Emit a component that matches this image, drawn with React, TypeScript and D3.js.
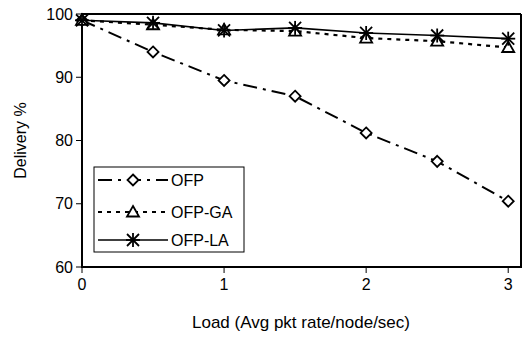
import React from "react";
import * as d3 from "d3";

const loads = [0, 0.5, 1, 1.5, 2, 2.5, 3];
const ofp = [99, 94, 89.5, 87, 81.2, 76.7, 70.4];
const ofpGA = [99, 98.3, 97.5, 97.3, 96.2, 95.7, 94.7];
const ofpLA = [99, 98.6, 97.4, 97.8, 97.0, 96.6, 96.1];
const seriesNames = ["OFP", "OFP-GA", "OFP-LA"];
const xTicks = [0, 1, 2, 3];
const yTicks = [60, 70, 80, 90, 100];

const W = 531, H = 338;
const L = 82, R = 521, T = 14, B = 267;
const FONT = "'Liberation Sans', Arial, sans-serif";

function Marker({ kind, x, y }: { kind: number; x: number; y: number }) {
  if (kind === 0) {
    const s = 5.5;
    return <path d={`M${x},${y - s}L${x + s},${y}L${x},${y + s}L${x - s},${y}Z`} fill="white" stroke="black" strokeWidth={1.8} />;
  }
  if (kind === 1) {
    const s = 6;
    return <path d={`M${x},${y - s}L${x + s},${y + s * 0.75}L${x - s},${y + s * 0.75}Z`} fill="white" stroke="black" strokeWidth={1.8} />;
  }
  const s = 6;
  return (
    <g stroke="black" strokeWidth={1.8}>
      <line x1={x - s} y1={y - s} x2={x + s} y2={y + s} />
      <line x1={x - s} y1={y + s} x2={x + s} y2={y - s} />
      <line x1={x} y1={y - s - 1} x2={x} y2={y + s + 1} />
      <line x1={x - s - 1} y1={y} x2={x + s + 1} y2={y} />
    </g>
  );
}

export default function App() {
  const x = d3.scaleLinear().domain([0, 3.09]).range([L, R]);
  const y = d3.scaleLinear().domain([60, 100]).range([B, T]);
  const data = [ofp, ofpGA, ofpLA];
  const dashes = ["14,6,3,6", "4,5", ""];
  const widths = [2, 2.2, 1.6];
  const line = (vals: number[]) =>
    d3.line<number>().x((_, i) => x(loads[i])).y((v) => y(v))(vals) || "";

  const legendRows = [180, 212, 240];

  return (
    <svg width={W} height={H} style={{ position: "absolute", left: 0, top: 0, background: "white" }} fontFamily={FONT}>
      <rect x={0} y={0} width={W} height={H} fill="white" />
      {/* frame */}
      <line x1={L} y1={T} x2={R} y2={T} stroke="black" strokeWidth={2} />
      <line x1={R} y1={T} x2={R} y2={B} stroke="black" strokeWidth={2} />
      <line x1={L} y1={T - 1} x2={L} y2={B + 1} stroke="black" strokeWidth={2} />
      <line x1={L - 1} y1={B} x2={R + 1} y2={B} stroke="black" strokeWidth={2} />
      {yTicks.map((t) => (
        <g key={t}>
          <line x1={L - 6} y1={y(t)} x2={L} y2={y(t)} stroke="black" strokeWidth={1} />
          <text x={L - 9} y={y(t)} dy="0.35em" textAnchor="end" fontSize={16}>{t}</text>
        </g>
      ))}
      {xTicks.map((t) => (
        <g key={t}>
          <line x1={x(t)} y1={B} x2={x(t)} y2={B + 6} stroke="black" strokeWidth={1} />
          <text x={x(t)} y={B + 23} textAnchor="middle" fontSize={16}>{t}</text>
        </g>
      ))}
      <text x={301} y={328} textAnchor="middle" fontSize={17}>Load (Avg pkt rate/node/sec)</text>
      <text transform={`translate(26,${(T + B) / 2}) rotate(-90)`} textAnchor="middle" fontSize={16}>Delivery %</text>
      {data.map((vals, k) => (
        <g key={k}>
          <path d={line(vals)} fill="none" stroke="black" strokeWidth={widths[k]} strokeDasharray={dashes[k] || undefined} />
        </g>
      ))}
      {data.map((vals, k) => (
        <g key={"m" + k}>
          {vals.map((v, i) => (
            <Marker key={i} kind={k} x={x(loads[i])} y={y(v)} />
          ))}
        </g>
      ))}
      {/* legend */}
      <rect x={94} y={167} width={150} height={85} fill="white" stroke="black" strokeWidth={1} />
      {seriesNames.map((n, k) => (
        <g key={n}>
          <line x1={98} y1={legendRows[k]} x2={168} y2={legendRows[k]} stroke="black" strokeWidth={widths[k]} strokeDasharray={dashes[k] || undefined} />
          <Marker kind={k} x={133} y={legendRows[k]} />
          <text x={171} y={legendRows[k]} dy="0.35em" fontSize={16}>{n}</text>
        </g>
      ))}
    </svg>
  );
}
